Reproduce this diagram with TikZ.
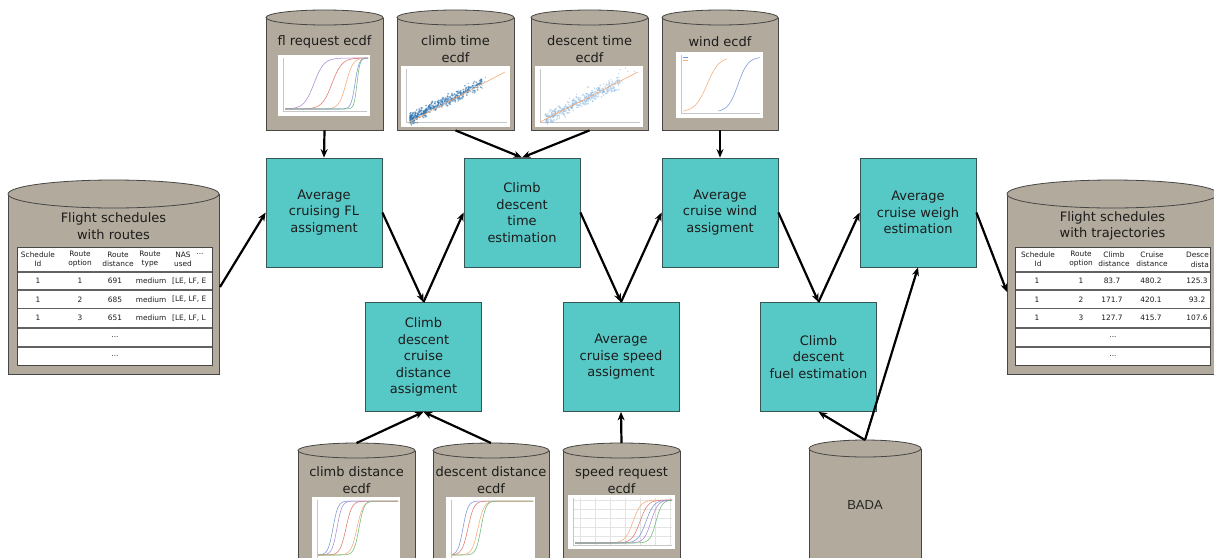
\documentclass[tikz,border=0pt]{standalone}
\usepackage{fontspec}
\setmainfont{DejaVu Sans}
\newfontfamily\arialfont{Liberation Sans}
\usetikzlibrary{arrows.meta,calc}
\definecolor{cylfill}{RGB}{178,170,156}
\definecolor{cylline}{RGB}{70,70,70}
\definecolor{boxfill}{RGB}{86,200,198}
\definecolor{boxline}{RGB}{55,85,85}
\definecolor{txt}{RGB}{28,28,28}
\definecolor{pblue}{RGB}{120,150,215}
\definecolor{ppurple}{RGB}{170,140,210}
\definecolor{pred}{RGB}{225,120,110}
\definecolor{porange}{RGB}{245,170,120}
\definecolor{pgreen}{RGB}{110,185,120}
\definecolor{sblue}{RGB}{50,120,180}
\definecolor{lblue}{RGB}{140,185,225}
\newcommand\dbcyl[6]{% name, cx, halfw, ytop, ybot, ry
  \pgfmathsetmacro\cyc{#4+#6}
  \node[fill=cylfill, draw=none, inner sep=0pt, minimum width={2*#3*1pt}, minimum height={(#5-\cyc)*1pt}, anchor=north] (#1) at (#2,\cyc) {};
  \draw[cylline, line width=0.8pt] (#2-#3,\cyc) -- (#2-#3,#5) -- (#2+#3,#5) -- (#2+#3,\cyc);
  \draw[cylline, line width=0.8pt, fill=cylfill] (#2,\cyc) ellipse [x radius=#3pt, y radius=#6pt];
  \coordinate (#1-top) at (#2,#4);
}
\newcommand\plotframe[4]{% x1 y1 x2 y2
  \fill[white] (#1,#2) rectangle (#3,#4);
  \draw[gray!45, line width=0.3pt] (#1+5,#2+3) -- (#1+5,#4-5) -- (#3-3,#4-5);
}
\newcommand\ecdf[7]{% color, xmin, xmax, ybot, ytop, center, scale
  \draw[#1, line width=0.55pt] plot[domain=#2:#3, samples=45, smooth] (\x, {#4-(#4-#5)/(1+exp(max(-8,min(8,-(\x-#6)/#7))))});
}
\tikzset{
  procbox/.style={draw=boxline, fill=boxfill, line width=0.8pt, minimum width=116pt, minimum height=109pt, inner sep=0pt, text width=114pt, align=center, text=txt, font=\fontsize{13}{16.5}\selectfont},
  cyltext/.style={text=txt, align=center, inner sep=0pt, font=\fontsize{13}{16.7}\selectfont},
  cell/.style={text=txt, inner sep=0pt, align=center, font=\fontsize{7.4}{9}\selectfont},
  flow/.style={line width=2.2pt, black, -{Stealth[length=8.5pt,width=7pt]}},
  rowline/.style={draw=cylline!85, line width=1.2pt}
}
\begin{document}
\begin{tikzpicture}[x=1pt,y=-1pt]
\useasboundingbox (0,0) rectangle (1214,557);
\clip (0,0) rectangle (1214,557);
\fill[white] (0,0) rectangle (1214,557);

% ---------- top cylinders ----------
\dbcyl{fl}{324.5}{58.5}{10}{130}{7.5}
\dbcyl{clt}{455.5}{58.5}{10}{130}{7.5}
\dbcyl{dst}{589.5}{58.5}{10}{130}{7.5}
\dbcyl{wnd}{720}{58}{10}{130}{7.5}
\node[cyltext] (fl-l) at (324.5,42) {fl request ecdf};
\node[cyltext] (clt-l) at (455.5,49.5) {climb time\\ecdf};
\node[cyltext] (dst-l) at (589.5,49.5) {descent time\\ecdf};
\node[cyltext] (wnd-l) at (720,42) {wind ecdf};

% fl request plot
\plotframe{278}{55}{370}{116}
\ecdf{ppurple}{285}{368}{109}{58}{314}{5}
\ecdf{pred}{285}{368}{109}{58}{332}{5}
\ecdf{porange}{285}{368}{109}{58}{346}{3.5}
\ecdf{pgreen}{285}{368}{109}{58}{357}{1.5}
\ecdf{pblue}{285}{368}{109}{58}{355}{2}
% climb time plot
\plotframe{401}{66}{510}{127}
\pgfmathsetseed{11}
\foreach \i in {1,...,380}{
  \pgfmathsetmacro\t{rnd^1.4}\pgfmathsetmacro\n{rand+rand+rand}
  \fill[sblue, opacity=0.6] ({410+72*\t},{119-36*\t+2.6*\n}) circle (1pt);
}
\foreach \i in {1,...,25}{
  \pgfmathsetmacro\t{rnd}\pgfmathsetmacro\n{rand+rand}
  \fill[sblue, opacity=0.5] ({440+50*\t},{104-25*\t+4*\n}) circle (0.7pt);
}
\draw[porange, line width=0.6pt] (408,123) -- (505,72);
% descent time plot
\plotframe{535}{66}{643}{127}
\foreach \i in {1,...,360}{
  \pgfmathsetmacro\t{rnd^1.2}\pgfmathsetmacro\n{rand+rand+rand}
  \fill[lblue, opacity=0.55] ({545+75*\t},{119-37*\t+3*\n}) circle (0.9pt);
}
\foreach \i in {1,...,30}{
  \pgfmathsetmacro\t{rnd}\pgfmathsetmacro\n{rand+rand}
  \fill[lblue, opacity=0.6] ({555+80*\t},{112-40*\t+6*\n}) circle (0.7pt);
}
\draw[porange, line width=0.6pt] (540,122) -- (638,72);
% wind plot
\plotframe{676}{52}{763}{118}
\ecdf{porange}{683}{727}{112}{57}{707}{6}
\ecdf{pblue}{718}{760}{112}{57}{738}{5}
\draw[pblue, line width=0.4pt] (683,57) -- (688,57);
\draw[porange, line width=0.4pt] (683,60) -- (688,60);

% ---------- big cylinders ----------
\dbcyl{src}{113.5}{105.5}{180}{374}{14}
\dbcyl{dstc}{1112.5}{105.5}{180}{374}{14}
\node[cyltext] (src-l) at (113.5,226) {Flight schedules\\with routes};
\node[cyltext] (dstc-l) at (1112.5,226) {Flight schedules\\with trajectories};

% left table
\begin{scope}
  \fill[white] (17,247) rectangle (212,365);
  \clip (17,247) rectangle (212,365);
  \node[cell] (lh1) at (38,259.5) {Schedule\\Id};
  \node[cell] (lh2) at (80,259.5) {Route\\option};
  \node[cell] (lh3) at (118,259.5) {Route\\distance};
  \node[cell] (lh4) at (150,259.5) {Route\\type};
  \node[cell] (lh5) at (183,259.5) {NAS\\used};
  \node[cell] (lh6) at (200,254) {...};
  \foreach \y/\b/\c/\d in {281/1/691/E, 299.5/2/685/E, 318/3/651/L}{
    \node[cell] (la\b) at (38,\y) {1};
    \node[cell] (lb\b) at (80,\y) {\b};
    \node[cell] (lc\b) at (115,\y) {\c};
    \node[cell] (ld\b) at (151,\y) {medium};
    \node[cell, anchor=west] (le\b) at (172,\y) {[LE, LF, \d};
  }
  \node[cell] (ldot1) at (115,337) {...};
  \node[cell] (ldot2) at (115,356) {...};
  \foreach \y in {272,290,308.5,328,347}{\draw[rowline] (17,\y) -- (212,\y);}
\end{scope}
\draw[cylline, line width=0.9pt] (17,247) rectangle (212,365);

% right table
\begin{scope}
  \fill[white] (1015,247) rectangle (1210,365);
  \node[cell] (rh1) at (1038,259.5) {Schedule\\Id};
  \node[cell] (rh2) at (1081,259.5) {Route\\option};
  \node[cell] (rh3) at (1114,259.5) {Climb\\distance};
  \node[cell] (rh4) at (1152,259.5) {Cruise\\distance};
  \node[cell, anchor=east] (rh5a) at (1209,255) {Desce};
  \node[cell, anchor=east] (rh5b) at (1209,264.5) {dista};
  \foreach \y/\b/\c/\d/\e in {281/1/83.7/480.2/125.3, 299.5/2/171.7/420.1/93.2, 318/3/127.7/415.7/107.6}{
    \node[cell] (ra\b) at (1037,\y) {1};
    \node[cell] (rb\b) at (1081,\y) {\b};
    \node[cell] (rc\b) at (1112,\y) {\c};
    \node[cell] (rd\b) at (1151,\y) {\d};
    \node[cell] (re\b) at (1197,\y) {\e};
  }
  \node[cell] (rdot1) at (1113,337) {...};
  \node[cell] (rdot2) at (1113,356) {...};
  \foreach \y in {272,290,308.5,328,347}{\draw[rowline] (1015,\y) -- (1210,\y);}
\end{scope}
\draw[cylline, line width=0.9pt] (1015,247) rectangle (1210,365);

% ---------- bottom cylinders ----------
\dbcyl{cdc}{356.5}{58.5}{443}{575}{7.5}
\dbcyl{ddc}{491}{58}{443}{575}{7.5}
\dbcyl{src2}{621.5}{58.5}{443}{575}{7.5}
\dbcyl{bada}{865}{56}{440}{575}{8.5}
\node[cyltext] (cdc-l) at (356.5,480) {climb distance\\ecdf};
\node[cyltext] (ddc-l) at (491,480) {descent distance\\ecdf};
\node[cyltext] (src2-l) at (621.5,480) {speed request\\ecdf};
\node[cyltext, font=\arialfont\fontsize{13}{16}\selectfont, text=black!85] (bada-l) at (865,505) {BADA};

% climb distance plot
\plotframe{312}{497}{400}{565}
\ecdf{pblue}{318}{398}{555}{501}{333}{2.5}
\ecdf{ppurple}{318}{398}{555}{501}{337}{2.5}
\ecdf{pred}{318}{398}{555}{501}{346}{3}
\ecdf{porange}{318}{398}{555}{501}{357}{3}
\ecdf{pgreen}{318}{398}{555}{501}{359}{2.5}
% descent distance plot
\plotframe{446}{497}{535}{565}
\ecdf{pblue}{452}{533}{555}{501}{463}{2.5}
\ecdf{pred}{452}{533}{555}{501}{468}{3}
\ecdf{porange}{452}{533}{555}{501}{478}{3}
\ecdf{pgreen}{452}{533}{555}{501}{481}{2.5}
% speed request plot
\fill[white] (568,495) rectangle (675,549);
\foreach \gx in {580,595,610,625,640,655,670}{\draw[gray!22, line width=0.3pt] (\gx,498) -- (\gx,545);}
\foreach \gy in {500,509,518,527,536,545}{\draw[gray!22, line width=0.3pt] (573,\gy) -- (672,\gy);}
\draw[gray!45, line width=0.3pt] (573,498) -- (573,545) -- (672,545);
\ecdf{porange}{575}{672}{543}{500}{633}{4}
\ecdf{pred}{575}{672}{543}{500}{640}{4}
\ecdf{pblue}{575}{672}{543}{500}{646}{4}
\ecdf{ppurple}{575}{672}{543}{500}{651}{3.5}
\ecdf{pgreen}{575}{672}{543}{500}{656}{3}

% ---------- process boxes ----------
\node[procbox] (b1) at (324,212.5) {Average\\cruising FL\\assigment};
\node[procbox] (b2) at (522,212.5) {Climb\\descent\\time\\estimation};
\node[procbox] (b4) at (720,212.5) {Average\\cruise wind\\assigment};
\node[procbox] (b5) at (918,212.5) {Average\\cruise weigh\\estimation};
\node[procbox] (b3) at (423.5,357) {Climb\\descent\\cruise\\distance\\assigment};
\node[procbox] (b6) at (621,357) {Average\\cruise speed\\assigment};
\node[procbox] (b7) at (818.5,357) {Climb\\descent\\fuel estimation};

% ---------- connectors ----------
\coordinate (src-out) at (220,287);
\coordinate (dstc-in) at (1007,292);
\draw[flow] (fl.south) -- (b1.north);
\draw[flow] (clt.south) -- (b2.north);
\draw[flow] (dst.south) -- (b2.north);
\draw[flow] (wnd.south) -- (b4.north);
\draw[flow] (src-out) -- (b1.west);
\draw[flow] (b1.east) -- (b3.north);
\draw[flow] (b3.north) -- (b2.west);
\draw[flow] (b2.east) -- (b6.north);
\draw[flow] (b6.north) -- (b4.west);
\draw[flow] (b4.east) -- (b7.north);
\draw[flow] (b7.north) -- (b5.west);
\draw[flow] (b5.east) -- (dstc-in);
\draw[flow] (cdc-top) -- (b3.south);
\draw[flow] (ddc-top) -- (b3.south);
\draw[flow] (src2-top) -- (b6.south);
\draw[flow] (bada-top) -- (b7.south);
\draw[flow] (bada-top) -- (b5.south);
\end{tikzpicture}
\end{document}
